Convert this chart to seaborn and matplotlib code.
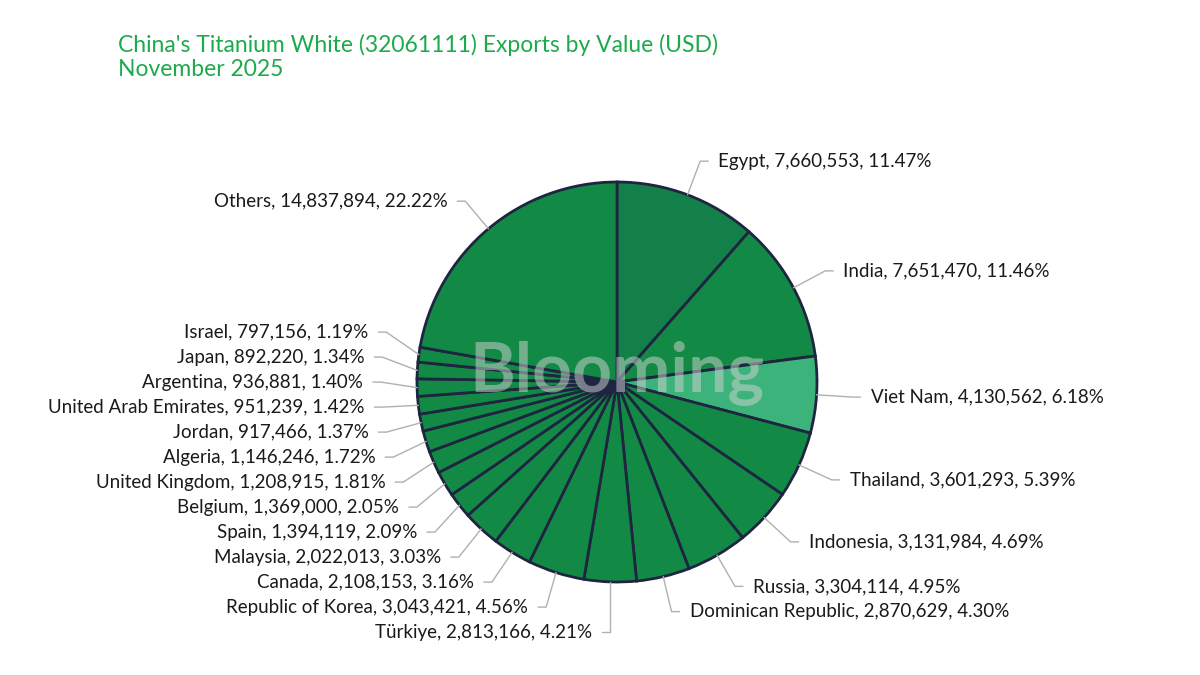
import numpy as np
import seaborn as sns
import matplotlib.pyplot as plt

countries = ["Egypt", "India", "Viet Nam", "Thailand", "Indonesia", "Russia",
             "Dominican Republic", "Türkiye", "Republic of Korea", "Canada",
             "Malaysia", "Spain", "Belgium", "United Kingdom", "Algeria",
             "Jordan", "United Arab Emirates", "Argentina", "Japan", "Israel",
             "Others"]
values = [7660553, 7651470, 4130562, 3601293, 3131984, 3304114,
          2870629, 2813166, 3043421, 2108153,
          2022013, 1394119, 1369000, 1208915, 1146246,
          917466, 951239, 936881, 892220, 797156,
          14837894]
shares = [11.47, 11.46, 6.18, 5.39, 4.69, 4.95,
          4.30, 4.21, 4.56, 3.16,
          3.03, 2.09, 2.05, 1.81, 1.72,
          1.37, 1.42, 1.40, 1.34, 1.19,
          22.22]

title = "China's Titanium White (32061111) Exports by Value (USD)\nNovember 2025"

sns.set_theme(style="white")
plt.rcParams['font.family'] = ['Lato', 'DejaVu Sans']

green = "#128A46"
colors = [green] * len(values)
colors[0] = "#13804A"
colors[2] = "#3DB37C"
edge = "#1E2540"

fig = plt.figure(figsize=(12, 6.75), dpi=100)
ax = fig.add_axes([0, 0, 1, 1])

wedges, _ = ax.pie(values, colors=colors, startangle=90, counterclock=False,
                   radius=1.0, center=(0, 0),
                   wedgeprops=dict(edgecolor=edge, linewidth=2.0))

# pie sets its own limits, so fix them afterwards (1 unit = 200 px)
ax.set_xlim(-3.085, 2.915)
ax.set_ylim(-1.465, 1.91)
ax.set_aspect('equal')
ax.axis('off')

# watermark
ax.text(0, 0.04, "Blooming", ha='center', va='center', fontsize=50,
        fontweight='bold', color='#d4d4d4', alpha=0.5, zorder=5)

# label placement (pie-style leader lines)
r_line = 1.18
len2 = 0.04
pad = 0.05
gap = 0.125

total = float(sum(values))
cum = np.cumsum([0] + values)
mids = [(cum[i] + cum[i + 1]) / 2 / total * 2 * np.pi for i in range(len(values))]

items = []
for i, a in enumerate(mids):
    side = 1 if np.sin(a) >= 0 else -1
    items.append(dict(i=i, a=a, side=side, y=r_line * np.cos(a)))


def spread(group):
    group.sort(key=lambda d: -d['y'])
    for _ in range(400):
        moved = False
        for k in range(len(group) - 1):
            d = group[k]['y'] - group[k + 1]['y']
            if d < gap:
                s = (gap - d) / 2
                group[k]['y'] += s
                group[k + 1]['y'] -= s
                moved = True
        if not moved:
            break


for side in (1, -1):
    spread([d for d in items if d['side'] == side])

for d in items:
    i, a, side, y = d['i'], d['a'], d['side'], d['y']
    x0, y0 = np.sin(a), np.cos(a)
    x1 = side * np.sqrt(max(r_line ** 2 - y ** 2, 0.0))
    if side * x1 < side * x0:
        x1 = x0
    x2 = x1 + side * len2
    ax.plot([x0, x1, x2], [y0, y, y], color='#b0b0b0', lw=1.0, zorder=1)
    txt = f"{countries[i]}, {values[i]:,}, {shares[i]:.2f}%"
    ax.text(x2 + side * pad, y, txt, ha='left' if side > 0 else 'right',
            va='center', fontsize=13.5, color='#1a1a1a')

fig.text(118 / 1200, 1 - 34 / 675, title, ha='left', va='top', fontsize=16.5,
         color='#1DAA4B', linespacing=1.2)

fig.savefig("out.png", dpi=100)
